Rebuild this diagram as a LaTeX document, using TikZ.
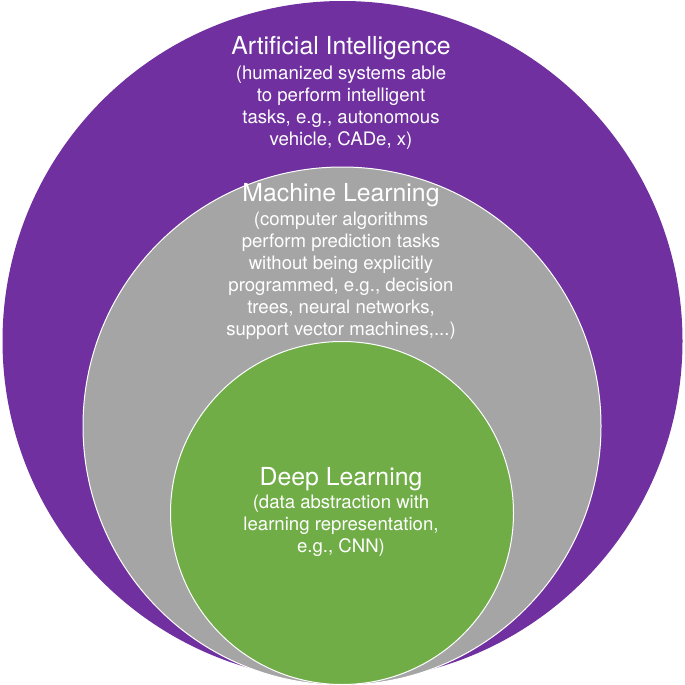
\documentclass[tikz,border=0pt]{standalone}
\usepackage{fontspec}
\setmainfont{TeX Gyre Heros}
\definecolor{aipurple}{HTML}{7030A0}
\definecolor{mlgrey}{HTML}{A5A5A5}
\definecolor{dlgreen}{HTML}{70AD47}

\begin{document}
\begin{tikzpicture}[x=1pt, y=-1pt,
  ring/.style={circle, inner sep=0pt, draw=white, line width=1pt},
  head/.style={text=white, inner sep=0pt, font=\fontsize{24.8}{28}\selectfont},
  blurb/.style={text=white, align=center, inner sep=0pt, font=\fontsize{18.6}{22}\selectfont}]

\useasboundingbox (0,0) rectangle (685,685);

\node[ring, fill=aipurple, draw=none, minimum size=680pt] (ai) at (342.5,341) {};
\node[ring, fill=mlgrey, minimum size=518pt] (ml) at (342,426) {};
\node[ring, fill=dlgreen, minimum size=343pt] (dl) at (342,513) {};


\node[head] (aititle) at (341,48) {Artificial Intelligence};
\node[blurb] (aitext) at (341,108) {(humanized systems able\\to perform intelligent\\tasks, e.g., autonomous\\vehicle, CADe, x)};

\node[head] (mltitle) at (341,195) {Machine Learning};
\node[blurb] (mltext) at (341,276) {(computer algorithms\\perform prediction tasks\\without being explicitly\\programmed, e.g., decision\\trees, neural networks,\\support vector machines,...)};

\node[head] (dltitle) at (341,479) {Deep Learning};
\node[blurb] (dltext) at (341,526) {(data abstraction with\\learning representation,\\e.g., CNN)};

\end{tikzpicture}
\end{document}
